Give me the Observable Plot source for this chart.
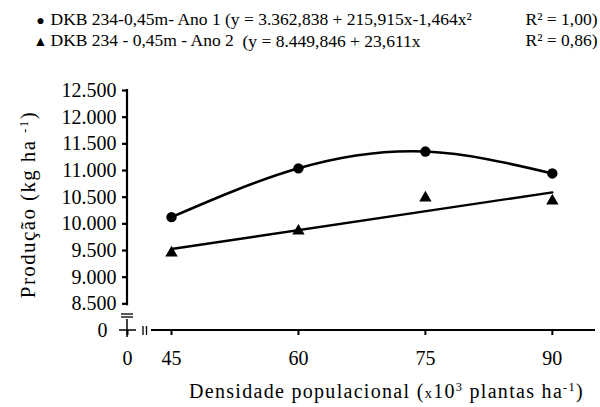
<!DOCTYPE html>
<html>
<head>
<meta charset="utf-8">
<script src="https://cdn.jsdelivr.net/npm/d3@7"></script>
<script src="https://cdn.jsdelivr.net/npm/@observablehq/plot@0.6"></script>
<style>
  html, body { margin: 0; padding: 0; background: white; }
  svg, svg text, svg tspan { font-family: "Liberation Serif", "Tinos", "Times New Roman", Times, "DejaVu Serif", "Noto Serif", serif !important; }
</style>
</head>
<body>
<div id="chart"></div>
<script>
// ---- data ----
const densidade = [45, 60, 75, 90];
const ano1 = [10125, 11040, 11355, 10945];
const ano2 = [9455, 9865, 10485, 10430];
const yTicks = [8500, 9000, 9500, 10000, 10500, 11000, 11500, 12000, 12500];
const xTicks = [45, 60, 75, 90];
const xZero = 39.8;   // position standing for "0" before the axis break
const yZero = 8000;   // position standing for "0" below the axis break
const xMax = 95.1;
const yMax = 12500;
const markers = ["●", "▲"];
const legendNames = ["DKB 234-0,45m- Ano 1 (y = 3.362,838 + 215,915x-1,464x²", "DKB 234 - 0,45m - Ano 2"];
const legend2b = "(y = 8.449,846 + 23,611x";
const legendR2 = ["R² = 1,00)", "R² = 0,86)"];
const xLabel = "Densidade populacional (~x~10^3^ plantas ha^-1^)";
const yLabel = "Produção (kg ha ^-1^)";

const rows1 = densidade.map((d, i) => ({densidade: d, producao: ano1[i]}));
const rows2 = densidade.map((d, i) => ({densidade: d, producao: ano2[i]}));

const locale = d3.formatLocale({decimal: ",", thousands: ".", grouping: [3], currency: ["", ""]});
const fmt = locale.format(",");

// axis lines and break symbols, positioned through the plot's scales
function axisFurniture(index, {x, y}) {
  const g = d3.create("svg:g").attr("stroke", "black").attr("fill", "none");
  const x0 = x(xZero), y0 = y(yZero);
  g.append("line").attr("stroke-width", 2.2)
    .attr("x1", x0).attr("x2", x0).attr("y1", y(yMax) - 1).attr("y2", y(yTicks[0]) + 2);
  // y break "="
  for (const o of [-16, -13]) {
    g.append("line").attr("stroke-width", 1.3)
      .attr("x1", x0 - 6).attr("x2", x0 + 6).attr("y1", y0 + o).attr("y2", y0 + o);
  }
  // origin cross
  g.append("line").attr("stroke-width", 1.5).attr("x1", x0).attr("x2", x0).attr("y1", y0 - 11).attr("y2", y0 + 7);
  g.append("line").attr("stroke-width", 1.5).attr("x1", x0 - 8).attr("x2", x0 + 9).attr("y1", y0).attr("y2", y0);
  // x break "||"
  for (const o of [16, 19.5]) {
    g.append("line").attr("stroke-width", 1.3)
      .attr("x1", x0 + o).attr("x2", x0 + o).attr("y1", y0 - 4).attr("y2", y0 + 5);
  }
  g.append("line").attr("stroke-width", 2.2)
    .attr("x1", x0 + 24).attr("x2", x(xMax)).attr("y1", y0).attr("y2", y0);
  return g.node();
}

const spacing = new Map([[xLabel, 1.3], [yLabel, 1.4]]);

const plot = Plot.plot({
  width: 600,
  height: 407,
  marginLeft: 127,
  marginRight: 5,
  marginTop: 90,
  marginBottom: 77,
  x: {type: "linear", domain: [xZero, xMax], axis: null},
  y: {type: "linear", domain: [yZero, yMax], axis: null},
  style: {color: "black", background: "white", overflow: "visible"},
  marks: [
    Plot.axisY(yTicks, {
      tickSize: 5, tickPadding: 6, fontSize: 20, strokeWidth: 2.2, label: null,
      tickFormat: fmt
    }),
    Plot.text([yZero], {x: xZero, y: d => d, text: () => "0", textAnchor: "end", dx: -20, fontSize: 20}),
    Plot.axisX([xZero, ...xTicks], {
      tickSize: 5, tickPadding: 15, fontSize: 20, strokeWidth: 2, label: null,
      tickFormat: d => d === xZero ? "0" : String(d)
    }),
    axisFurniture,
    Plot.line(rows1, {x: "densidade", y: "producao", curve: "natural", stroke: "black", strokeWidth: 2.6}),
    Plot.linearRegressionY(rows2, {x: "densidade", y: "producao", ci: 0, stroke: "black", strokeWidth: 2.4}),
    Plot.dot(rows1, {x: "densidade", y: "producao", symbol: "circle", r: 5.2, fill: "black"}),
    Plot.dot(rows2, {x: "densidade", y: "producao", symbol: "triangle", r: 4.6, fill: "black"}),
    // legend (two lines per text so both rows share the same x)
    Plot.text([markers.join("\n")], {frameAnchor: "top-left", dx: -87, dy: -80, textAnchor: "middle", lineAnchor: "top", lineHeight: 1.5, fontSize: 14}),
    Plot.text([legendNames.join("\n")], {frameAnchor: "top-left", dx: -77, dy: -80.5, textAnchor: "start", lineAnchor: "top", lineHeight: 1.2, fontSize: 17.5}),
    Plot.text([legendR2.join("\n")], {frameAnchor: "top-right", dx: 2, dy: -80.5, textAnchor: "end", lineAnchor: "top", lineHeight: 1.2, fontSize: 17.5}),
    Plot.text([legend2b], {frameAnchor: "top-left", dx: 115, dy: -49, textAnchor: "start", lineAnchor: "middle", fontSize: 17.5}),
    // axis titles
    Plot.text([xLabel], {frameAnchor: "bottom", dx: 25, dy: 61, textAnchor: "middle", lineAnchor: "middle", fontSize: 20}),
    Plot.text([yLabel], {frameAnchor: "left", dx: -99, dy: -6, rotate: -90, textAnchor: "middle", lineAnchor: "middle", fontSize: 21})
  ]
});

// rich text: ^...^ superscript, ~...~ small; letter spacing for titles
d3.select(plot).selectAll("text").each(function() {
  const t = this.textContent;
  const sel = d3.select(this);
  if (spacing.has(t)) sel.style("letter-spacing", spacing.get(t) + "px");
  if (!/[\^~]/.test(t)) return;
  sel.text(null);
  const parts = t.split(/([\^~])/);
  let sup = false, small = false;
  for (const p of parts) {
    if (p === "^") { sup = !sup; continue; }
    if (p === "~") { small = !small; continue; }
    if (!p) continue;
    const ts = sel.append("tspan").text(p);
    if (sup) ts.attr("font-size", "0.62em").attr("baseline-shift", "0.55em");
    if (small) ts.attr("font-size", "0.72em");
  }
});

document.getElementById("chart").appendChild(plot);
</script>
</body>
</html>
